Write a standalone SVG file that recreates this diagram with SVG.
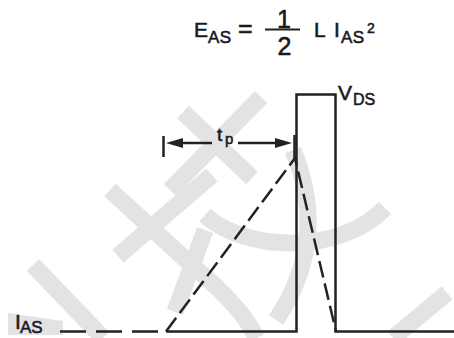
<svg xmlns="http://www.w3.org/2000/svg" width="454" height="338" viewBox="0 0 454 338">
<defs>
<style>
.t{font-family:"Liberation Sans",Arial,sans-serif;fill:#181820;stroke:#181820;stroke-width:0.55}
.wm{fill:none;stroke:#e3e3e3;stroke-width:17;stroke-linecap:butt}
.ln{fill:none;stroke:#222;stroke-width:2.5}
.dh{fill:none;stroke:#222;stroke-width:2.5;stroke-dasharray:26 10}
.dd{fill:none;stroke:#222;stroke-width:2.5;stroke-dasharray:17 6}
.ah{fill:#222}
</style>
</defs>
<rect width="454" height="338" fill="#fff"/>
<g id="watermark">
<line class="wm" x1="33" y1="265" x2="103" y2="338"/>
<path class="wm" d="M110,190 L195,268 Q245,310 256,338"/>
<line class="wm" x1="212" y1="175" x2="118" y2="256"/>
<line class="wm" x1="261" y1="97" x2="170" y2="190"/>
<line class="wm" x1="183" y1="112" x2="252" y2="178"/>
<line class="wm" x1="205" y1="230" x2="175" y2="312"/>
<path class="wm" d="M205,215 C245,252 340,255 385,208"/>
<path class="wm" d="M293,150 Q330,240 276,320"/>
<line class="wm" x1="447" y1="293" x2="393" y2="338"/>
<polygon points="8,313 63,321 63,335 8,335" fill="#e3e3e3"/>
</g>
<g id="formula">
<text class="t" x="194" y="37" font-size="21">E</text>
<text class="t" x="208" y="43" font-size="17" letter-spacing="0.5">AS</text>
<text class="t" x="238" y="37" font-size="25">=</text>
<line x1="265" y1="29.5" x2="300" y2="29.5" stroke="#222" stroke-width="2"/>
<text class="t" x="284" y="28" font-size="25" text-anchor="middle">1</text>
<text class="t" x="284.5" y="55" font-size="25" text-anchor="middle">2</text>
<text class="t" x="314" y="37" font-size="21">L</text>
<text class="t" x="334" y="37" font-size="21">I</text>
<text class="t" x="341" y="43" font-size="17" letter-spacing="0.5">AS</text>
<text class="t" x="367" y="33" font-size="14">2</text>
</g>
<g id="connectors">
<path class="ln" d="M166,331.5 H296.5 V94.5 H335.5 V331.5 H454"/>
<line class="dh" x1="60" y1="331.5" x2="166" y2="331.5"/>
<polyline class="dd" points="166,331.5 295,158 336,331.5"/>
<line class="ln" x1="163.5" y1="136" x2="163.5" y2="157"/>
<line class="ln" x1="294.5" y1="135" x2="294.5" y2="158"/>
<line class="ln" x1="178" y1="143" x2="212" y2="143"/>
<polygon class="ah" points="166,143 183,138 183,148"/>
<line class="ln" x1="238" y1="143" x2="276" y2="143"/>
<polygon class="ah" points="292,143 275,138 275,148"/>
</g>
<g id="tp">
<text class="t" x="217" y="141" font-size="19">t</text>
<text class="t" x="225" y="144" font-size="15">p</text>
</g>
<g id="vds">
<text class="t" x="338" y="100" font-size="21">V</text>
<text class="t" x="353" y="105" font-size="16">DS</text>
</g>
<g id="ias">
<text class="t" x="15" y="329" font-size="21">I</text>
<text class="t" x="20" y="333" font-size="17">AS</text>
</g>
</svg>
